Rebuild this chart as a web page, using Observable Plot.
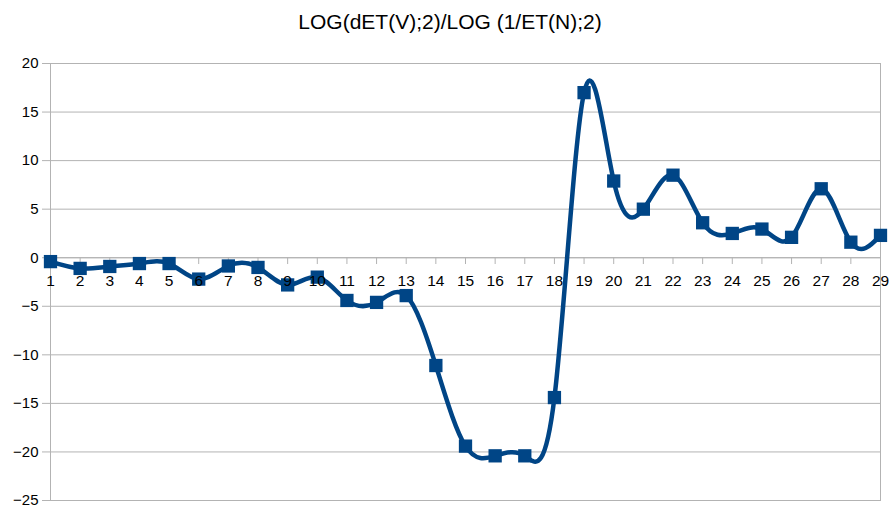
<!DOCTYPE html>
<html>
<head>
<meta charset="utf-8">
<script src="https://cdn.jsdelivr.net/npm/d3@7"></script>
<script src="https://cdn.jsdelivr.net/npm/@observablehq/plot@0.6"></script>
<style>
  html, body { margin: 0; padding: 0; background: #fff; }
  #title { width: 889px; height: 36px; line-height: 44px; text-align: center; font-family: "Liberation Sans", Arial, sans-serif; font-size: 21px; color: #000; padding-left: 11px; box-sizing: border-box; overflow: visible; white-space: nowrap; }
</style>
</head>
<body>
<div id="title">LOG(dET(V);2)/LOG (1/ET(N);2)</div>
<div id="chart"></div>
<script>
const categories = [1,2,3,4,5,6,7,8,9,10,11,12,13,14,15,16,17,18,19,20,21,22,23,24,25,26,27,28,29];
const values = [-0.4,-1.1,-0.9,-0.6,-0.6,-2.2,-0.85,-1.0,-2.8,-2.0,-4.4,-4.6,-3.9,-11.1,-19.4,-20.4,-20.4,-14.4,17.0,7.9,5.0,8.5,3.6,2.5,2.95,2.1,7.1,1.6,2.3];
const yTicks = [-25,-20,-15,-10,-5,0,5,10,15,20];

const data = categories.map((c, i) => ({x: c, y: values[i]}));
const font = "Liberation Sans, Arial, sans-serif";

const chart = Plot.plot({
  width: 889,
  height: 471,
  marginTop: 27,
  marginBottom: 7,
  marginLeft: 50,
  marginRight: 9,
  style: {fontFamily: font, fontSize: "15px", color: "#000", background: "#fff"},
  x: {domain: [1, 29], axis: null},
  y: {domain: [-25, 20], ticks: yTicks},
  marks: [
    Plot.gridY(yTicks, {stroke: "#b3b3b3", strokeOpacity: 1}),
    Plot.frame({stroke: "#b3b3b3"}),
    Plot.axisY(yTicks, {tickSize: 8, tickPadding: 4, stroke: "#b3b3b3", fill: "#000", fontSize: 15, label: null}),
    Plot.ruleY([0], {stroke: "#b3b3b3"}),
    Plot.ruleX(categories, {x: d => d, y1: 0, y2: -0.7, stroke: "#b3b3b3"}),
    Plot.line(data, {x: "x", y: "y", curve: "natural", stroke: "#004586", strokeWidth: 4.5}),
    Plot.dot(data, {x: "x", y: "y", symbol: "square", r: 7.5, fill: "#004586", stroke: "none"}),
    Plot.text(categories, {x: d => d, y: 0, dy: 23, text: d => String(d), fill: "#000", fontSize: 15.5})
  ]
});
document.getElementById("chart").appendChild(chart);
</script>
</body>
</html>
